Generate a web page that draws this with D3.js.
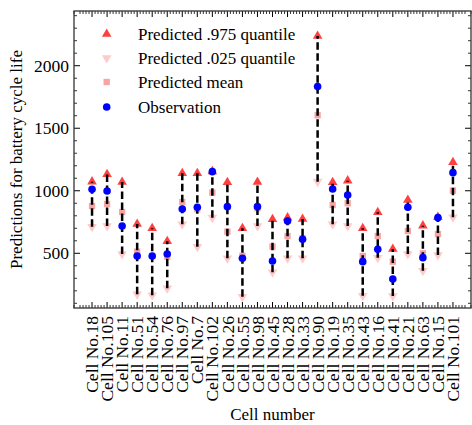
<!DOCTYPE html>
<html><head><meta charset="utf-8">
<script src="https://cdn.jsdelivr.net/npm/d3@7"></script>
<style>body{margin:0;background:#fff}svg{display:block}</style>
</head><body><svg id="c" width="472" height="425" font-family="'Liberation Serif', 'Times New Roman', Times, 'Nimbus Roman', 'DejaVu Serif', serif"></svg>
<script>
const cells = ["Cell No.18","Cell No.105","Cell No.11","Cell No.51","Cell No.54","Cell No.76","Cell No.97","Cell No.7","Cell No.102","Cell No.26","Cell No.55","Cell No.98","Cell No.45","Cell No.28","Cell No.33","Cell No.90","Cell No.19","Cell No.35","Cell No.43","Cell No.16","Cell No.41","Cell No.21","Cell No.63","Cell No.15","Cell No.101"];
const upper = [1073,1132,1070,734,700,596,1140,1140,1155,1068,700,1070,772,785,774,2238,1068,1081,700,828,534,926,721,790,1228];
const lower = [713,718,494,172,164,220,732,553,785,460,153,718,348,460,460,1073,732,718,161,465,158,494,361,486,788];
const meanP = [878,894,830,513,478,473,910,852,985,673,480,860,553,638,620,1604,886,900,478,638,433,678,500,654,1001];
const obs = [1012,998,718,478,478,494,854,868,1153,873,460,873,438,758,612,1833,1014,966,433,532,294,868,465,785,1145];
const yTicks = [500,1000,1500,2000];
const legendLabels = ["Predicted .975 quantile","Predicted .025 quantile","Predicted mean","Observation"];

const svg = d3.select("#c");
const L=74, R=471, T=11, B=308;
const x = d3.scaleLinear().domain([-1.2, 25.2]).range([L, R]);
const y = d3.scaleLinear().domain([62.5, 2437.5]).range([B, T]);
const idx = d3.range(cells.length);

const g = svg.append("g");
const xMinor = d3.range(-6, 127).map(v => v/5).filter(v => v>=-1.2 && v<=25.2 && Math.abs(v-Math.round(v))>1e-6);
const yMinor = d3.range(1, 25).map(v => v*100).filter(v => v%500!==0 && v>=62.5 && v<=2437.5);
const tc = "#000";
xMinor.forEach(v => {
  g.append("line").attr("x1",x(v)).attr("x2",x(v)).attr("y1",B).attr("y2",B-3).attr("stroke",tc).attr("stroke-width",0.8);
  g.append("line").attr("x1",x(v)).attr("x2",x(v)).attr("y1",T).attr("y2",T+3).attr("stroke",tc).attr("stroke-width",0.8);
});
idx.forEach(i => {
  g.append("line").attr("x1",x(i)).attr("x2",x(i)).attr("y1",B).attr("y2",B-6).attr("stroke",tc).attr("stroke-width",1);
  g.append("line").attr("x1",x(i)).attr("x2",x(i)).attr("y1",T).attr("y2",T+6).attr("stroke",tc).attr("stroke-width",1);
});
yMinor.forEach(v => {
  g.append("line").attr("x1",L).attr("x2",L+3).attr("y1",y(v)).attr("y2",y(v)).attr("stroke",tc).attr("stroke-width",0.8);
  g.append("line").attr("x1",R).attr("x2",R-3).attr("y1",y(v)).attr("y2",y(v)).attr("stroke",tc).attr("stroke-width",0.8);
});
yTicks.forEach(v => {
  g.append("line").attr("x1",L).attr("x2",L+6).attr("y1",y(v)).attr("y2",y(v)).attr("stroke",tc).attr("stroke-width",1);
  g.append("line").attr("x1",R).attr("x2",R-6).attr("y1",y(v)).attr("y2",y(v)).attr("stroke",tc).attr("stroke-width",1);
  g.append("text").attr("x",L-5).attr("y",y(v)).attr("dy","0.35em").attr("text-anchor","end").attr("font-size",17.5).text(v);
});
idx.forEach(i => {
  g.append("text").attr("transform",`translate(${x(i)},${B+8}) rotate(-90)`).attr("dy","0.35em").attr("text-anchor","end").attr("font-size",17.5).text(cells[i]);
});
svg.append("rect").attr("x",L).attr("y",T).attr("width",R-L).attr("height",B-T).attr("fill","none").attr("stroke","#333").attr("stroke-width",1.3);

const tri = d3.symbol().type(d3.symbolTriangle).size(40);
const sq = d3.symbol().type(d3.symbolSquare).size(40);
const upCol = "rgba(255,30,30,0.85)", loCol = "rgba(255,180,180,0.7)", meCol = "rgba(240,90,90,0.55)", obCol = "#0000ff";
const m = svg.append("g");
idx.forEach(i => {
  m.append("path").attr("d",tri).attr("transform",`translate(${x(i)},${y(upper[i])})`).attr("fill",upCol);
  m.append("path").attr("d",tri).attr("transform",`translate(${x(i)},${y(lower[i])}) rotate(180)`).attr("fill",loCol);
  m.append("path").attr("d",sq).attr("transform",`translate(${x(i)},${y(meanP[i])})`).attr("fill",meCol);
});
idx.forEach(i => {
  m.append("line").attr("x1",x(i)).attr("x2",x(i)).attr("y1",y(lower[i])).attr("y2",y(upper[i]))
   .attr("stroke","#000").attr("stroke-width",2.5).attr("stroke-dasharray","7.5,3.5");
});
idx.forEach(i => {
  m.append("circle").attr("cx",x(i)).attr("cy",y(obs[i])).attr("r",3.8).attr("fill",obCol);
});

const lg = svg.append("g");
const ly = [34,58,82,107];
lg.append("path").attr("d",tri).attr("transform",`translate(106.7,${ly[0]})`).attr("fill",upCol);
lg.append("path").attr("d",tri).attr("transform",`translate(106.7,${ly[1]}) rotate(180)`).attr("fill",loCol);
lg.append("path").attr("d",sq).attr("transform",`translate(106.7,${ly[2]})`).attr("fill",meCol);
lg.append("circle").attr("cx",106.7).attr("cy",ly[3]).attr("r",3.8).attr("fill",obCol);
legendLabels.forEach((t,i) => lg.append("text").attr("x",138).attr("y",ly[i]).attr("dy","0.35em").attr("font-size",17).text(t));

svg.append("text").attr("x",(L+R)/2).attr("y",420).attr("text-anchor","middle").attr("font-size",17).text("Cell number");
svg.append("text").attr("transform",`translate(22,${(T+B)/2}) rotate(-90)`).attr("text-anchor","middle").attr("font-size",17).text("Predictions for battery cycle life");
</script></body></html>
